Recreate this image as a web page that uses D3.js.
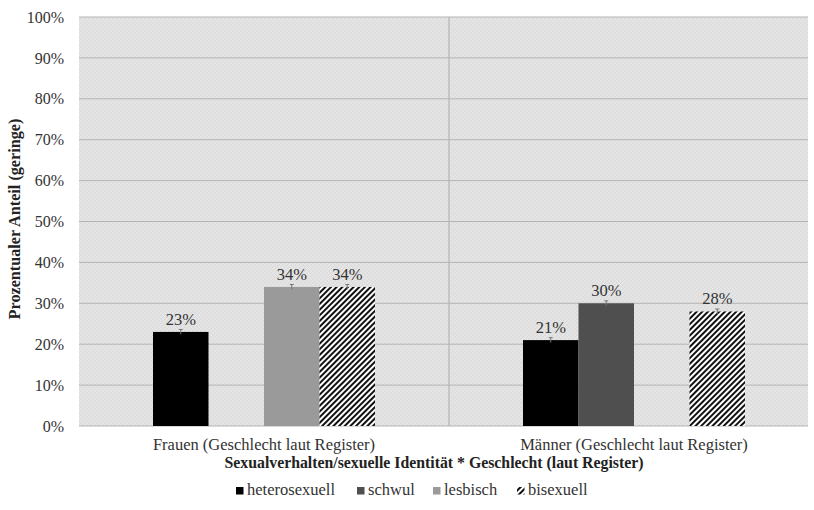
<!DOCTYPE html>
<html>
<head>
<meta charset="utf-8">
<script src="https://cdn.jsdelivr.net/npm/d3@7"></script>
<style>
  body { margin: 0; background: #fff; }
  svg text { font-family: "Liberation Serif", "DejaVu Serif", serif; }
</style>
</head>
<body>
<div id="chart"></div>
<script>
var categories = ["Frauen (Geschlecht laut Register)", "Männer (Geschlecht laut Register)"];
var seriesNames = ["heterosexuell", "schwul", "lesbisch", "bisexuell"];
// values per series, one per category (null = no bar)
var hetero = [23, 21];
var schwul = [null, 30];
var lesbisch = [34, null];
var bisexuell = [34, 28];
var errs = [0.6, 0.6];
var yTicks = [0, 10, 20, 30, 40, 50, 60, 70, 80, 90, 100];

var seriesValues = [hetero, schwul, lesbisch, bisexuell];
var colors = ["#000000", "#4f4f4f", "#9a9a9a", "url(#stripes)"];

var width = 814, height = 510;
var margin = {top: 17, right: -5, bottom: 84, left: 79};
var plotRight = 808;

var svg = d3.select("#chart").append("svg")
  .attr("width", width)
  .attr("height", height);

var defs = svg.append("defs");
// plot background texture
var bg = defs.append("pattern")
  .attr("id", "bgtex")
  .attr("patternUnits", "userSpaceOnUse")
  .attr("width", 4).attr("height", 4);
bg.append("rect").attr("width", 4).attr("height", 4).attr("fill", "#e2e2e2");
bg.append("path").attr("d", "M0,4 L4,0").attr("stroke", "#d7d7d7").attr("stroke-width", 0.7);
bg.append("path").attr("d", "M0,0 L4,4").attr("stroke", "#ebebeb").attr("stroke-width", 0.6);

// diagonal stripes for bisexuell
var st = defs.append("pattern")
  .attr("id", "stripes")
  .attr("patternUnits", "userSpaceOnUse")
  .attr("width", 4).attr("height", 4)
  .attr("patternTransform", "rotate(45)");
st.append("rect").attr("width", 4).attr("height", 4).attr("fill", "#fff");
st.append("rect").attr("width", 2).attr("height", 4).attr("fill", "#111");

var x0 = d3.scaleBand()
  .domain(categories)
  .range([margin.left, width - margin.right]);

var x1 = d3.scaleBand()
  .domain(seriesNames)
  .range([x0.bandwidth() * 0.2, x0.bandwidth() * 0.8]);

var y = d3.scaleLinear()
  .domain([0, 100])
  .range([height - margin.bottom, margin.top]);

// plot area
svg.append("rect")
  .attr("x", margin.left)
  .attr("y", y(100))
  .attr("width", plotRight - margin.left)
  .attr("height", y(0) - y(100))
  .attr("fill", "url(#bgtex)");

// gridlines
svg.append("g")
  .selectAll("line")
  .data(yTicks)
  .enter().append("line")
  .attr("x1", margin.left)
  .attr("x2", plotRight)
  .attr("y1", function(d) { return y(d); })
  .attr("y2", function(d) { return y(d); })
  .attr("stroke", "#b4b4b4")
  .attr("stroke-width", 1);

// category divider
svg.append("line")
  .attr("x1", x0(categories[1]))
  .attr("x2", x0(categories[1]))
  .attr("y1", y(100))
  .attr("y2", y(0))
  .attr("stroke", "#b4b4b4")
  .attr("stroke-width", 1.2);

// y axis labels
var yAxis = svg.append("g")
  .attr("transform", "translate(" + margin.left + ",0)")
  .call(d3.axisLeft(y).tickValues(yTicks).tickSize(0).tickPadding(15)
    .tickFormat(function(d) { return d + "%"; }));
yAxis.select(".domain").remove();
yAxis.selectAll("text")
  .attr("font-size", 16)
  .attr("fill", "#333")
  .style("font-family", "Liberation Serif");

// bars
var barData = [];
seriesNames.forEach(function(s, si) {
  categories.forEach(function(c, ci) {
    var v = seriesValues[si][ci];
    if (v != null) barData.push({series: s, si: si, cat: c, value: v});
  });
});

var bars = svg.append("g");
bars.selectAll("rect")
  .data(barData)
  .enter().append("rect")
  .attr("x", function(d) { return x0(d.cat) + x1(d.series); })
  .attr("y", function(d) { return y(d.value); })
  .attr("width", x1.bandwidth())
  .attr("height", function(d) { return y(0) - y(d.value); })
  .attr("fill", function(d) { return colors[d.si]; });

// tiny error bars
var eb = svg.append("g").attr("stroke", "#777").attr("stroke-width", 1);
barData.forEach(function(d) {
  var cx = x0(d.cat) + x1(d.series) + x1.bandwidth() / 2;
  var e = errs[categories.indexOf(d.cat)];
  eb.append("line").attr("x1", cx).attr("x2", cx)
    .attr("y1", y(d.value - e)).attr("y2", y(d.value + e));
  eb.append("line").attr("x1", cx - 2).attr("x2", cx + 2)
    .attr("y1", y(d.value + e)).attr("y2", y(d.value + e));
});

// data labels
svg.append("g")
  .selectAll("text")
  .data(barData)
  .enter().append("text")
  .attr("x", function(d) { return x0(d.cat) + x1(d.series) + x1.bandwidth() / 2; })
  .attr("y", function(d) { return y(d.value) - 7; })
  .attr("text-anchor", "middle")
  .attr("font-size", 16.5)
  .attr("fill", "#333")
  .text(function(d) { return d.value + "%"; });

// category labels
svg.append("g")
  .selectAll("text")
  .data(categories)
  .enter().append("text")
  .attr("x", function(d) { return x0(d) + x0.bandwidth() / 2; })
  .attr("y", 450)
  .attr("text-anchor", "middle")
  .attr("font-size", 16.5)
  .attr("fill", "#333")
  .text(function(d) { return d; });

// x axis title
svg.append("text")
  .attr("x", 434)
  .attr("y", 468)
  .attr("text-anchor", "middle")
  .attr("font-size", 15.8)
  .attr("font-weight", "bold")
  .attr("fill", "#222")
  .text("Sexualverhalten/sexuelle Identität * Geschlecht (laut Register)");

// y axis title
svg.append("text")
  .attr("transform", "translate(20,219) rotate(-90)")
  .attr("text-anchor", "middle")
  .attr("font-size", 16.2)
  .attr("font-weight", "bold")
  .attr("fill", "#222")
  .text("Prozentualer Anteil (geringe)");

// legend
var legendX = [236, 357, 433, 517];
var legend = svg.append("g");
seriesNames.forEach(function(s, i) {
  var g = legend.append("g").attr("transform", "translate(" + legendX[i] + ",495)");
  g.append("rect")
    .attr("x", 0).attr("y", -8)
    .attr("width", 7.5).attr("height", 7.5)
    .attr("fill", colors[i]);
  g.append("text")
    .attr("x", 11)
    .attr("y", 0)
    .attr("font-size", 16.5)
    .attr("fill", "#333")
    .text(s);
});
</script>
</body>
</html>
